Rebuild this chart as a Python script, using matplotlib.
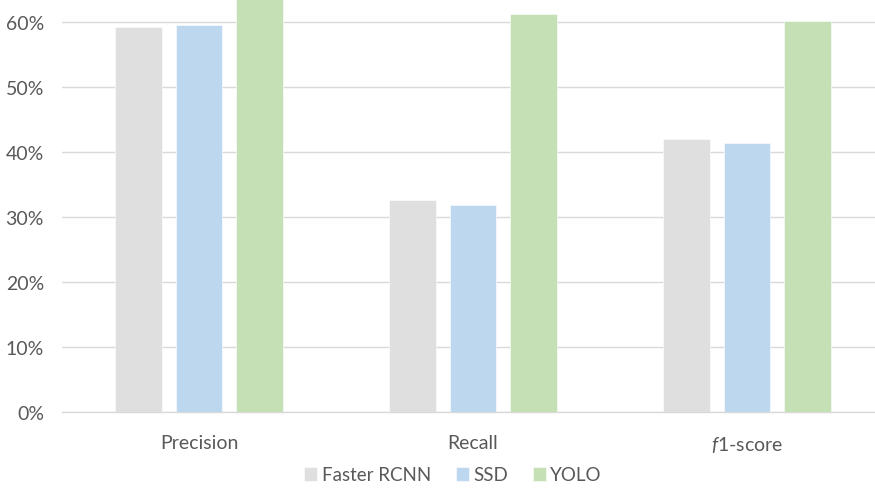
import matplotlib.pyplot as plt
import numpy as np
from matplotlib.ticker import PercentFormatter

plt.rcParams['font.family'] = ['Lato', 'DejaVu Sans']
plt.rcParams['mathtext.fontset'] = 'custom'
plt.rcParams['mathtext.it'] = 'Lato:italic'
plt.rcParams['mathtext.rm'] = 'Lato'

# Detection metrics per model (%)
metrics = ['Precision', 'Recall', '$f$1-score']
models = ['Faster RCNN', 'SSD', 'YOLO']
faster_rcnn = [59.2, 32.6, 42.0]
ssd = [59.5, 31.8, 41.4]
yolo = [66.0, 61.2, 60.1]
colors = ['#DEDFDE', '#BDD7EE', '#C5E0B4']

fig = plt.figure(figsize=(8.75, 4.89), dpi=100)
ax = fig.add_axes([62 / 875, 76 / 489, 822 / 875, 413 / 489])

x = np.arange(len(metrics))
width = 0.1715
step = 0.2208
for i, (vals, name) in enumerate(zip([faster_rcnn, ssd, yolo], models)):
    ax.bar(x + (i - 1) * step, vals, width, color=colors[i], label=name,
           edgecolor='white', linewidth=0.4, zorder=3)

ax.set_xlim(-0.5, 2.5)
ax.set_ylim(0, 63.5)
ax.set_yticks(np.arange(0, 61, 10))
ax.yaxis.set_major_formatter(PercentFormatter(decimals=0))
ax.grid(axis='y', color='#D9D9D9', linewidth=1.0, zorder=0)
for s in ['top', 'right', 'left']:
    ax.spines[s].set_visible(False)
ax.spines['bottom'].set_color('#D9D9D9')
ax.spines['bottom'].set_linewidth(1.0)
ax.set_xticks(x)
ax.set_xticklabels(metrics)
ax.tick_params(axis='both', length=0, labelsize=14, labelcolor='#595959')
ax.tick_params(axis='x', pad=16)
ax.tick_params(axis='y', pad=13)

fig.legend(loc='center', bbox_to_anchor=(453 / 875, 1 - 476 / 489), ncol=3,
           frameon=False, fontsize=13.5, handlelength=0.7, handleheight=0.7,
           handletextpad=0.25, columnspacing=1.3, labelcolor='#595959')

fig.savefig('out.png', dpi=100)
